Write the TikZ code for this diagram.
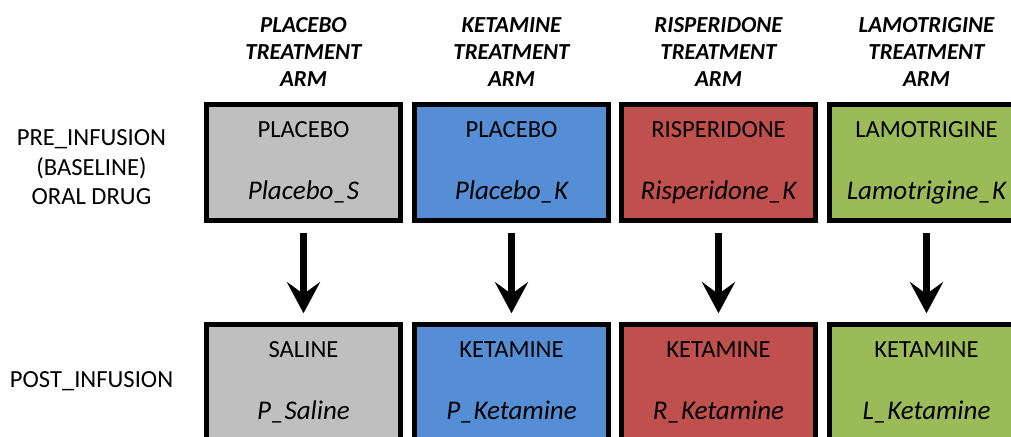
\documentclass[tikz,border=0pt]{standalone}
\usepackage{fontspec}
\setmainfont{Carlito}
\usetikzlibrary{positioning}
\usetikzlibrary{arrows.meta}

\definecolor{armgray}{RGB}{191,191,191}
\definecolor{armblue}{RGB}{85,142,213}
\definecolor{armred}{RGB}{192,80,77}
\definecolor{armgreen}{RGB}{155,187,89}

\newcommand{\drugcode}[1]{{\fontsize{19.2}{21}\selectfont\itshape #1}}

\tikzset{
	drugbox/.style={draw=black, line width=3.5pt, minimum width=4.85cm, minimum height=2.9cm,
		align=center, inner sep=0pt, font=\fontsize{17.5}{21}\selectfont},
	armhead/.style={align=center, inner sep=0pt, font=\fontsize{16.3}{19.2}\selectfont\bfseries\itshape},
	rowlabel/.style={align=center, inner sep=0pt, font=\fontsize{17.5}{21}\selectfont},
	doseflow/.style={line width=5pt, -{Stealth[length=0.78cm,width=0.83cm,inset=0.3cm]},
		shorten <=0.25cm, shorten >=0.22cm}
}

\begin{document}
\begin{tikzpicture}[x=0.025cm, y=-0.025cm]
		\useasboundingbox (0,0) rectangle (1011,436);
		\clip (0,0) rectangle (1011,436);

		% Define the row labels
		\node[rowlabel] (prelabel) at (91.5,167.5) {PRE\_INFUSION\\(BASELINE)\\ORAL DRUG};
		\node[rowlabel] (postlabel) at (91.5,381) {POST\_INFUSION};

		% Draw the arms (boxes, header and arrow)
		\foreach \n/\x/\col/\drug/\pre/\prename/\post/\postname in {
			p/303.5/armgray/PLACEBO/PLACEBO/Placebo\_S/SALINE/P\_Saline,
			k/511.5/armblue/KETAMINE/PLACEBO/Placebo\_K/KETAMINE/P\_Ketamine,
			r/718.5/armred/RISPERIDONE/RISPERIDONE/Risperidone\_K/KETAMINE/R\_Ketamine,
			l/926.5/armgreen/LAMOTRIGINE/LAMOTRIGINE/Lamotrigine\_K/KETAMINE/L\_Ketamine}
		{
			\node[drugbox, fill=\col] (pre\n) at (\x,162.5) {\pre\\[23pt]\drugcode{\prename}};
			\node[drugbox, fill=\col] (post\n) at (\x,382.5) {\post\\[23pt]\drugcode{\postname}};
			\node[armhead, above=0.375cm of pre\n] (arm\n) {\drug\\TREATMENT\\ARM};
			\draw[doseflow] (pre\n) -- (post\n);
		}
	\end{tikzpicture}
\end{document}
